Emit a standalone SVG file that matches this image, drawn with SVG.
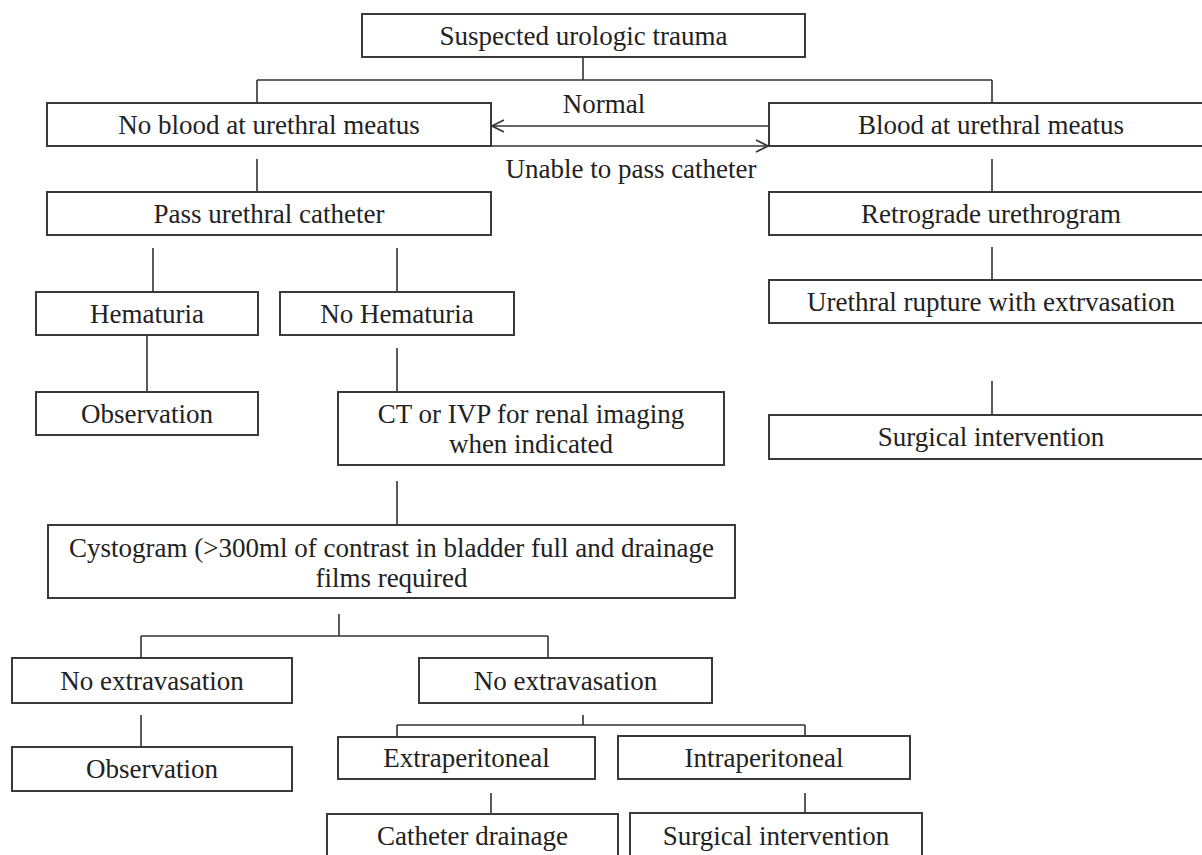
<svg xmlns="http://www.w3.org/2000/svg" width="1202" height="855" viewBox="0 0 1202 855">
<defs>
<style>
.box{fill:#fff;stroke:#3a3a3a;stroke-width:2}
.t{font-family:"Liberation Serif","Times New Roman",serif;font-size:27px;fill:#222;text-anchor:middle}
.c{stroke:#333;stroke-width:1.6;fill:none}
</style>
<marker id="arr" viewBox="0 0 14 14" refX="13" refY="7" markerWidth="14" markerHeight="14" markerUnits="userSpaceOnUse" orient="auto">
<path d="M1,1 L13,7 L1,13" fill="none" stroke="#333" stroke-width="1.6"/>
</marker>
</defs>
<rect width="1202" height="855" fill="#fff"/>
<g id="connectors">
<path class="c" d="M583,57 V80 M257,80 H992 M257,80 V103 M992,80 V103"/>
<path class="c" d="M769,126 H492" marker-end="url(#arr)"/>
<path class="c" d="M491,146 H768" marker-end="url(#arr)"/>
<path class="c" d="M257,159 V192 M992,159 V192"/>
<path class="c" d="M153,248 V292 M397,248 V292 M992,247 V280"/>
<path class="c" d="M147,335 V392 M397,348 V392 M992,381 V415"/>
<path class="c" d="M397,481 V525"/>
<path class="c" d="M339,614 V636 M141,636 H548 M141,636 V658 M548,636 V658"/>
<path class="c" d="M141,715 V747"/>
<path class="c" d="M583,715 V725 M397,725 H805 M397,725 V737 M805,725 V736"/>
<path class="c" d="M491,793 V814 M805,793 V813"/>
<text class="t" x="604" y="113">Normal</text>
<text class="t" x="631" y="178">Unable to pass catheter</text>
</g>
<g id="n-top"><rect class="box" x="362" y="14" width="443" height="43"/><text class="t" x="583.5" y="45">Suspected urologic trauma</text></g>
<g id="n-noblood"><rect class="box" x="47" y="103" width="444" height="43"/><text class="t" x="269" y="134">No blood at urethral meatus</text></g>
<g id="n-blood"><path class="box" d="M1203,103 H769 V146 H1203"/><text class="t" x="991" y="134">Blood at urethral meatus</text></g>
<g id="n-pass"><rect class="box" x="47" y="192" width="444" height="43"/><text class="t" x="269" y="223">Pass urethral catheter</text></g>
<g id="n-retro"><path class="box" d="M1203,192 H769 V235 H1203"/><text class="t" x="991" y="223">Retrograde urethrogram</text></g>
<g id="n-hem"><rect class="box" x="36" y="292" width="222" height="43"/><text class="t" x="147" y="323">Hematuria</text></g>
<g id="n-nohem"><rect class="box" x="280" y="292" width="234" height="43"/><text class="t" x="397" y="323">No Hematuria</text></g>
<g id="n-rupture"><path class="box" d="M1203,280 H769 V323 H1203"/><text class="t" x="991" y="311">Urethral rupture with extrvasation</text></g>
<g id="n-obs1"><rect class="box" x="36" y="392" width="222" height="43"/><text class="t" x="147" y="423">Observation</text></g>
<g id="n-ct"><rect class="box" x="338" y="392" width="386" height="73"/><text class="t" x="531" y="423">CT or IVP for renal imaging</text><text class="t" x="531" y="453">when indicated</text></g>
<g id="n-surg1"><path class="box" d="M1203,415 H769 V459 H1203"/><text class="t" x="991" y="446">Surgical intervention</text></g>
<g id="n-cysto"><rect class="box" x="48" y="525" width="687" height="73"/><text class="t" x="391.5" y="557">Cystogram (&gt;300ml of contrast in bladder full and drainage</text><text class="t" x="391.5" y="587">films required</text></g>
<g id="n-noext1"><rect class="box" x="12" y="658" width="280" height="45"/><text class="t" x="152" y="690">No extravasation</text></g>
<g id="n-noext2"><rect class="box" x="419" y="658" width="293" height="45"/><text class="t" x="565.5" y="690">No extravasation</text></g>
<g id="n-obs2"><rect class="box" x="12" y="747" width="280" height="44"/><text class="t" x="152" y="778">Observation</text></g>
<g id="n-extra"><rect class="box" x="338" y="737" width="257" height="42"/><text class="t" x="466.5" y="767">Extraperitoneal</text></g>
<g id="n-intra"><rect class="box" x="618" y="736" width="292" height="43"/><text class="t" x="764" y="767">Intraperitoneal</text></g>
<g id="n-cath"><path class="box" d="M327,856 V814 H618 V856"/><text class="t" x="472.5" y="845">Catheter drainage</text></g>
<g id="n-surg2"><path class="box" d="M630,856 V813 H922 V856"/><text class="t" x="776" y="845">Surgical intervention</text></g>
</svg>
